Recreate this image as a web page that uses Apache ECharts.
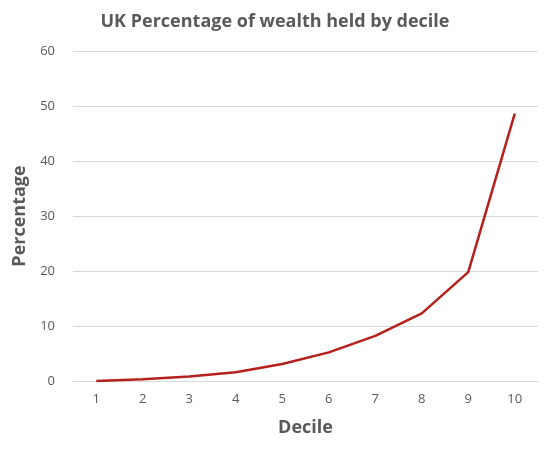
<!DOCTYPE html>
<html><head><meta charset="utf-8">
<script src="https://cdn.jsdelivr.net/npm/echarts@6/dist/echarts.min.js"></script>
<style>html,body{margin:0;padding:0;background:#fff}#c{width:550px;height:454px}</style>
</head><body><div id="c"></div>
<script>
const categories = ['1','2','3','4','5','6','7','8','9','10'];
const values = [0, 0.3, 0.8, 1.6, 3.1, 5.2, 8.2, 12.3, 19.8, 48.6];
const chart = echarts.init(document.getElementById('c'));
chart.setOption({
  animation: false,
  textStyle: {fontFamily: 'Open Sans'},
  title: {text: 'UK Percentage of wealth held by decile', left: 'center', top: 8,
    textStyle: {fontSize: 18, fontWeight: 'bold', color: '#595959', fontFamily: 'Open Sans'}},
  grid: {left: 73, right: 12, top: 51, bottom: 73},
  xAxis: {type: 'category', data: categories, boundaryGap: true,
    name: 'Decile', nameLocation: 'middle', nameGap: 38,
    nameTextStyle: {fontSize: 18, fontWeight: 'bold', color: '#595959'},
    axisLine: {lineStyle: {color: '#d9d9d9'}}, axisTick: {show: false},
    axisLabel: {color: '#595959', fontSize: 13, margin: 12}},
  yAxis: {type: 'value', min: 0, max: 60, interval: 10,
    name: 'Percentage', nameLocation: 'middle', nameGap: 44,
    nameTextStyle: {fontSize: 18, fontWeight: 'bold', color: '#595959'},
    axisLine: {show: false}, axisTick: {show: false},
    axisLabel: {color: '#595959', fontSize: 13, margin: 18},
    splitLine: {lineStyle: {color: '#d9d9d9'}}},
  series: [{type: 'line', data: values, symbol: 'none',
    lineStyle: {color: '#b5201c', width: 2.5}}]
});
</script></body></html>
